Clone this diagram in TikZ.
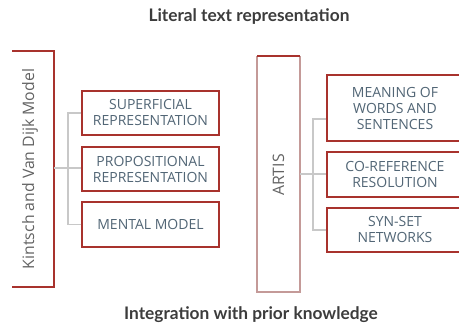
\documentclass[tikz,border=0pt]{standalone}
\usepackage{fontspec}
\setmainfont{Open Sans}
\newfontfamily\titlefont{Lato}
\usetikzlibrary{positioning,calc}
\definecolor{boxred}{HTML}{A8322D}
\definecolor{sidered}{HTML}{C49A98}
\definecolor{boxtext}{HTML}{526676}
\definecolor{conn}{HTML}{C8C8C8}
\definecolor{titlegray}{HTML}{3C3C3C}
\tikzset{
  leaf/.style={draw=boxred, line width=1.4pt, fill=white, inner sep=0pt, align=center,
    text=boxtext, font=\fontsize{14}{16}\selectfont},
  conline/.style={draw=conn, line width=1.5pt},
  headtext/.style={text=titlegray, font=\titlefont\bfseries\fontsize{17.3}{19}\selectfont},
  sidetext/.style={rotate=90, text=titlegray!80, font=\fontsize{15.8}{17}\selectfont},
}
\begin{document}
\begin{tikzpicture}[x=1pt,y=-1pt]
\useasboundingbox (0,0) rectangle (459,326);
\clip (0,0) rectangle (459,326);
% titles
\node[headtext] (top) at (249,17) {Literal text representation};
\node[headtext] (bot) at (251,315) {Integration with prior knowledge};
% left bracket box
\coordinate (kA) at (12,51);
\coordinate (kB) at (54,51);
\coordinate (kC) at (54,287);
\coordinate (kD) at (12,287);
\draw[boxred, line width=1.2pt] (kA) -- (kB) -- (kC) -- (kD);
\node[sidetext] (kin) at (30,169) {Kintsch and Van Dijk Model};
% left leaves
\node[leaf, minimum width=137pt, minimum height=44pt] (l1) at (150.5,113) {SUPERFICIAL\\REPRESENTATION};
\node[leaf, minimum width=137pt, minimum height=44pt] (l2) at (150.5,169) {PROPOSITIONAL\\REPRESENTATION};
\node[leaf, minimum width=137pt, minimum height=45pt] (l3) at (150.5,224.5) {MENTAL MODEL};
\coordinate (kout) at (54,168);
\coordinate (kbus) at (68,168);
\draw[conline] (kout) -- (kbus);
\draw[conline] (l1.west) -| (kbus);
\draw[conline] (l3.west) -| (kbus);
\draw[conline] (kbus) -- (l2.west |- kbus);
% ARTIS
\draw[sidered, line width=1.2pt] (257,56) -- (257,292) -- (300,292) -- (300,56);
\draw[boxred, line width=1.2pt] (257,56) -- (300,56);
\node[sidetext] (artis) at (278.5,175) {ARTIS};
\coordinate (aout) at (300,174);
\coordinate (abus) at (313,174);
% right leaves
\node[leaf, minimum width=136pt, minimum height=66pt] (r1) at (395,108) {MEANING OF\\WORDS AND\\SENTENCES};
\node[leaf, minimum width=136pt, minimum height=45pt] (r2) at (395,174.5) {CO-REFERENCE\\RESOLUTION};
\node[leaf, minimum width=136pt, minimum height=44pt] (r3) at (395,230) {SYN-SET\\NETWORKS};
\draw[conline] (aout) -- (abus);
\draw[conline] ($(r1.west)+(0,11)$) -| (abus);
\draw[conline] (r3.west) -| (abus);
\draw[conline] (abus) -- (r2.west |- abus);
\end{tikzpicture}
\end{document}
